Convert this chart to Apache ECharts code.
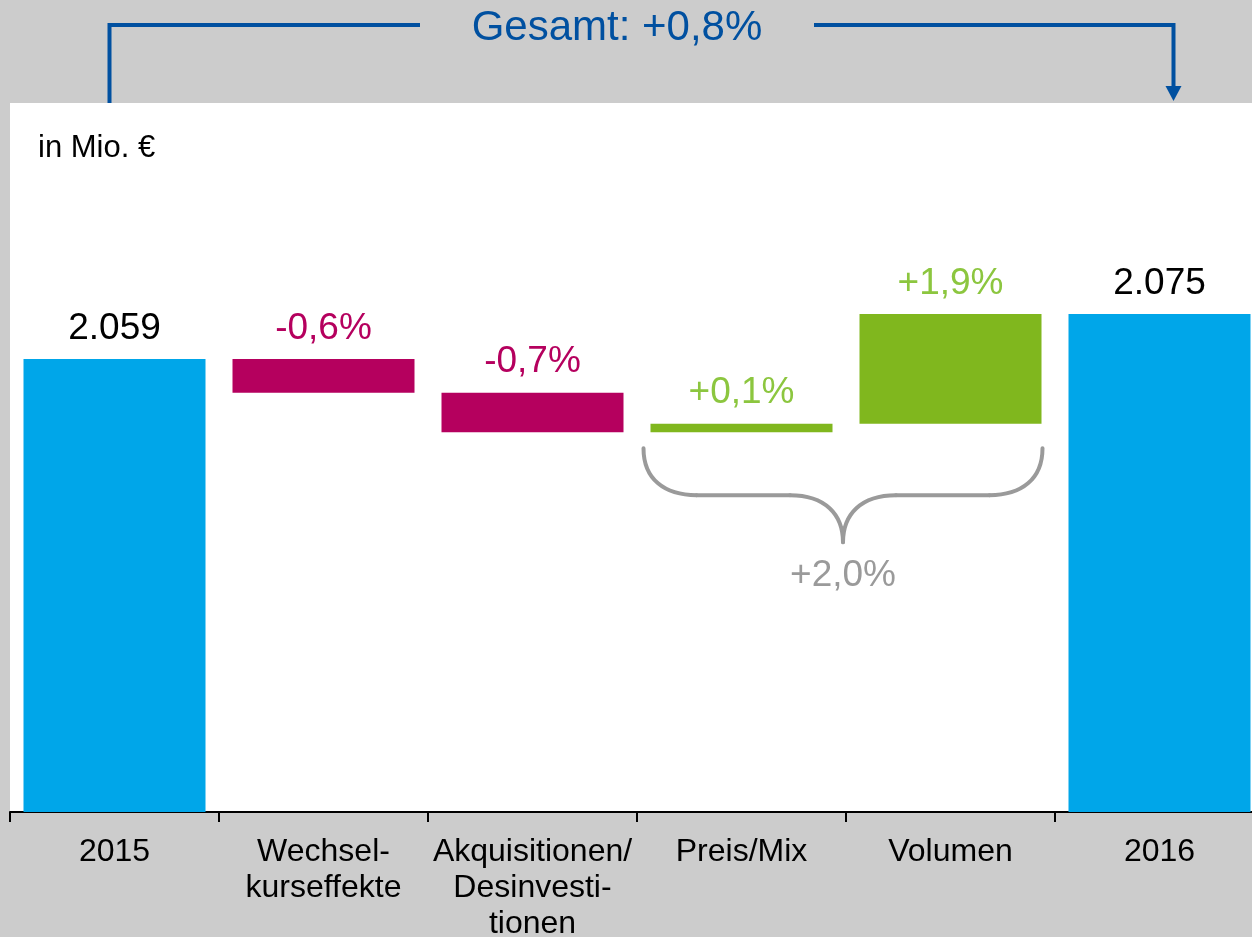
<!DOCTYPE html>
<html>
<head>
<meta charset="utf-8">
<script src="https://cdn.jsdelivr.net/npm/echarts@6/dist/echarts.min.js"></script>
<style>
  html, body { margin: 0; padding: 0; background: #cccccc; overflow: hidden; }
  #chart { width: 1264px; height: 937px; }
</style>
</head>
<body>
<div id="chart"></div>
<script>
// Umsatzbrücke 2015 -> 2016, in Mio. €
const categories = ['2015', 'Wechsel-\nkurseffekte', 'Akquisitionen/\nDesinvesti-\ntionen', 'Preis/Mix', 'Volumen', '2016'];
const baseValues = [0, 2047, 2033, 2033, 2036, 0];
const barValues = [2059, 12, 14, 3, 39, 2075];
const barLabels = ['2.059', '-0,6%', '-0,7%', '+0,1%', '+1,9%', '2.075'];
const barColors = ['#00a6e9', '#b5005e', '#b5005e', '#80b71e', '#80b71e', '#00a6e9'];
const labelColors = ['#000000', '#b5005e', '#b5005e', '#8cc63f', '#8cc63f', '#000000'];
const totalText = 'Gesamt: +0,8%';
const subtotalText = '+2,0%';

const font = 'Liberation Sans, Arial, sans-serif';
const chart = echarts.init(document.getElementById('chart'));

chart.setOption({
  backgroundColor: '#cccccc',
  animation: false,
  grid: {
    left: 10, right: 0, top: 103, bottom: 125,
    outerBoundsMode: 'none', containLabel: false,
    show: true, backgroundColor: '#ffffff', borderWidth: 0
  },
  xAxis: {
    type: 'category',
    data: categories,
    axisLine: { show: true, lineStyle: { color: '#000', width: 2 } },
    axisTick: { show: true, length: 10, lineStyle: { color: '#000', width: 2 } },
    axisLabel: {
      color: '#000', fontFamily: font, fontSize: 32, lineHeight: 36,
      margin: 22, interval: 0
    }
  },
  yAxis: {
    type: 'value', min: 1898, max: 2150, show: false,
    splitLine: { show: false }
  },
  series: [
    {
      type: 'bar', stack: 'w', barWidth: 182, silent: true,
      itemStyle: { color: 'transparent' },
      data: baseValues
    },
    {
      type: 'bar', stack: 'w', barWidth: 182,
      data: barValues.map((v, i) => ({
        value: v,
        itemStyle: { color: barColors[i] },
        label: { color: labelColors[i] }
      })),
      label: {
        show: true, position: 'top', distance: 12,
        fontFamily: font, fontSize: 37,
        formatter: p => barLabels[p.dataIndex]
      }
    }
  ]
});

// annotations placed from the axis scales
const px = (i, v) => chart.convertToPixel({ xAxisIndex: 0, yAxisIndex: 0 }, [i, v]);
const half = 91;
const gridTop = px(0, 2150)[1];
const leftX = px(0, 2059)[0] - 5;
const rightX = px(5, 2075)[0] + 14;
const braceL = px(3, 2033)[0] - half - 7;
const braceR = px(4, 2036)[0] + half + 1;
const braceMid = (braceL + braceR) / 2;
const bTop = px(3, 2033)[1] + 16;
const bMid = bTop + 47;
const bTip = bTop + 94;
const blue = '#0050a0';
const grey = '#9a9a9a';
const braceStyle = { stroke: grey, lineWidth: 4, fill: null, lineCap: 'round' };

const braceParts = [
  { type: 'bezierCurve', shape: { x1: braceL, y1: bTop, cpx1: braceL, cpy1: bTop + 31, cpx2: braceL + 21, cpy2: bMid, x2: braceL + 53, y2: bMid } },
  { type: 'line', shape: { x1: braceL + 53, y1: bMid, x2: braceMid - 53, y2: bMid } },
  { type: 'bezierCurve', shape: { x1: braceMid - 53, y1: bMid, cpx1: braceMid - 18, cpy1: bMid, cpx2: braceMid, cpy2: bMid + 19, x2: braceMid, y2: bTip } },
  { type: 'bezierCurve', shape: { x1: braceMid + 53, y1: bMid, cpx1: braceMid + 18, cpy1: bMid, cpx2: braceMid, cpy2: bMid + 19, x2: braceMid, y2: bTip } },
  { type: 'line', shape: { x1: braceMid + 53, y1: bMid, x2: braceR - 53, y2: bMid } },
  { type: 'bezierCurve', shape: { x1: braceR, y1: bTop, cpx1: braceR, cpy1: bTop + 31, cpx2: braceR - 21, cpy2: bMid, x2: braceR - 53, y2: bMid } }
].map(p => Object.assign(p, { style: braceStyle }));

chart.setOption({
  graphic: [
    {
      type: 'text', x: 38, y: 148,
      style: { text: 'in Mio. €', fill: '#000', font: '31px ' + font, verticalAlign: 'middle' }
    },
    {
      type: 'text', x: 617, y: 28,
      style: { text: totalText, fill: blue, font: '42px ' + font, align: 'center', verticalAlign: 'middle' }
    },
    {
      type: 'polyline',
      shape: { points: [[leftX, gridTop], [leftX, 25], [420, 25]] },
      style: { stroke: blue, lineWidth: 4, fill: null }
    },
    {
      type: 'polyline',
      shape: { points: [[814, 25], [rightX, 25], [rightX, 88]] },
      style: { stroke: blue, lineWidth: 4, fill: null }
    },
    {
      type: 'polygon',
      shape: { points: [[rightX - 8, 86], [rightX + 8, 86], [rightX, gridTop - 2]] },
      style: { fill: blue }
    }
  ].concat(braceParts, [
    {
      type: 'text', x: braceMid, y: bTip + 34,
      style: { text: subtotalText, fill: grey, font: '37px ' + font, align: 'center', verticalAlign: 'middle' }
    }
  ])
});
</script>
</body>
</html>
